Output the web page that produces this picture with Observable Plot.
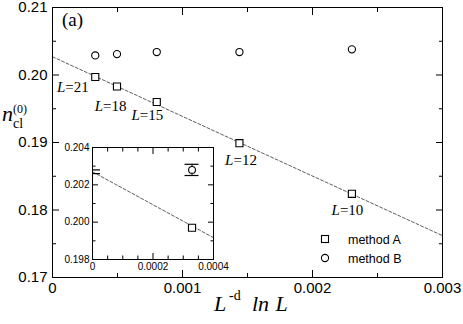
<!DOCTYPE html>
<html><head><meta charset="utf-8">
<script src="https://cdn.jsdelivr.net/npm/d3@7"></script>
<script src="https://cdn.jsdelivr.net/npm/@observablehq/plot@0.6"></script>
<style>
body{margin:0;background:#fff}
#wrap{position:relative;width:463px;height:324px;overflow:hidden;background:#fff}
#wrap > *{position:absolute}
</style></head><body><div id="wrap"></div>
<script>
// ---- data ----
const sizes   = [21, 18, 15, 12, 10];
const xVals   = [0.000329, 0.000496, 0.000802, 0.001438, 0.002303]; // L^-d ln L, d=3
const methodA = [0.1997, 0.1983, 0.1960, 0.1899, 0.1824];
const methodB = [0.2029, 0.2031, 0.2034, 0.2034, 0.2038];
const fitX = [0, 0.003];
const fitY = [0.2027, 0.1762];
const xTicks = [0, 0.001, 0.002, 0.003];
const xMinor = [0.0005, 0.0015, 0.0025];
const yTicks = [0.17, 0.18, 0.19, 0.20, 0.21];
const yMinor = [0.175, 0.185, 0.195, 0.205];
// inset
const insetXTicks = [0, 0.0002, 0.0004];
const insetXMinor = [0.00005, 0.0001, 0.00015, 0.00025, 0.0003, 0.00035];
const insetYTicks = [0.198, 0.200, 0.202, 0.204];
const insetYMinor = [0.199, 0.201, 0.203];
const extrapX = [0], extrapY = [0.2027], extrapErr = [0.0001];
const insetBX = [0.000329], insetBY = [0.2028], insetBErr = [0.0003];
const insetAX = [0.000329], insetAY = [0.1997];
const legendLabels = ["method A", "method B"];

// ---- tables ----
const fit = fitX.map((x, i) => ({x, y: fitY[i]}));
const ptsA = xVals.map((x, i) => ({x, y: methodA[i], L: sizes[i]}));
const ptsB = xVals.map((x, i) => ({x, y: methodB[i], L: sizes[i]}));
const ext = extrapX.map((x, i) => ({x, y: extrapY[i], e: extrapErr[i]}));
const insB = insetBX.map((x, i) => ({x, y: insetBY[i], e: insetBErr[i]}));
const insA = insetAX.map((x, i) => ({x, y: insetAY[i]}));

const sans = "'Liberation Sans', Arial, Helvetica, sans-serif";
const serif = "'Liberation Serif', 'Times New Roman', serif";
const none = () => "";

function label(i, dx, dy) {
  const d = [ptsA[i]];
  return [
    Plot.text(d, {x: "x", y: "y", text: () => "L", textAnchor: "end", lineAnchor: "bottom",
      dx, dy, fontFamily: serif, fontStyle: "italic", fontSize: 15, fill: "#000"}),
    Plot.text(d, {x: "x", y: "y", text: d => "=" + d.L, textAnchor: "start", lineAnchor: "bottom",
      dx, dy, fontFamily: serif, fontSize: 15, fill: "#000"})
  ];
}

const main = Plot.plot({
  width: 463, height: 324,
  marginLeft: 52, marginRight: 21, marginTop: 7, marginBottom: 47,
  x: {domain: [0, 0.003]},
  y: {domain: [0.17, 0.21]},
  style: {fontFamily: sans, fontSize: "15px", color: "#000", background: "transparent", overflow: "visible"},
  marks: [
    Plot.line(fit, {x: "x", y: "y", stroke: "#333", strokeWidth: 0.8, strokeDasharray: "3,2"}),
    Plot.axisX(xTicks, {anchor: "bottom", tickSize: -7, tickPadding: 12, label: null,
      tickFormat: d => d === 0 ? "0" : d3.format(".3f")(d)}),
    Plot.axisX(xMinor, {anchor: "bottom", tickSize: -4, tickFormat: none, label: null}),
    Plot.axisX(xTicks, {anchor: "top", tickSize: -7, tickFormat: none, label: null}),
    Plot.axisX(xMinor, {anchor: "top", tickSize: -4, tickFormat: none, label: null}),
    Plot.axisY(yTicks, {anchor: "left", tickSize: -7, tickPadding: 12, label: null,
      tickFormat: d3.format(".2f")}),
    Plot.axisY(yMinor, {anchor: "left", tickSize: -4, tickFormat: none, label: null}),
    Plot.axisY(yTicks, {anchor: "right", tickSize: -7, tickFormat: none, label: null}),
    Plot.axisY(yMinor, {anchor: "right", tickSize: -4, tickFormat: none, label: null}),
    Plot.frame({stroke: "#000", strokeWidth: 1}),
    Plot.dot(ptsA, {x: "x", y: "y", symbol: "square", r: 4, stroke: "#000", strokeWidth: 1.1, fill: "white"}),
    Plot.dot(ptsB, {x: "x", y: "y", symbol: "circle", r: 3.6, stroke: "#000", strokeWidth: 1.1, fill: "white"}),
    label(0, -30, 15),
    label(1, -14, 25),
    label(2, -17, 18),
    label(3, -6, 22),
    label(4, -12, 21)
  ]
});

const inset = Plot.plot({
  width: 180, height: 135,
  marginLeft: 40, marginRight: 19, marginTop: 7, marginBottom: 16,
  x: {domain: [0, 0.0004]},
  y: {domain: [0.198, 0.204]},
  style: {fontFamily: sans, fontSize: "10px", color: "#000", background: "transparent", overflow: "visible"},
  marks: [
    Plot.frame({fill: "white", stroke: null}),
    Plot.line(fit, {x: "x", y: "y", stroke: "#333", strokeWidth: 0.8, strokeDasharray: "3,2", clip: "frame"}),
    Plot.ruleX(ext, {x: "x", y1: d => d.y - d.e, y2: d => d.y + d.e, stroke: "#000", clip: "frame"}),
    Plot.ruleY(ext, {y: d => d.y - d.e, x1: "x", x2: "x", insetLeft: -8, insetRight: -8, stroke: "#000", strokeWidth: 1.2, clip: "frame"}),
    Plot.ruleY(ext, {y: d => d.y + d.e, x1: "x", x2: "x", insetLeft: -8, insetRight: -8, stroke: "#000", strokeWidth: 1.2, clip: "frame"}),
    Plot.ruleX(insB, {x: "x", y1: d => d.y - d.e, y2: d => d.y + d.e, stroke: "#000"}),
    Plot.ruleY(insB, {y: d => d.y - d.e, x1: "x", x2: "x", insetLeft: -7, insetRight: -7, stroke: "#000", strokeWidth: 1.2}),
    Plot.ruleY(insB, {y: d => d.y + d.e, x1: "x", x2: "x", insetLeft: -7, insetRight: -7, stroke: "#000", strokeWidth: 1.2}),
    Plot.dot(insB, {x: "x", y: "y", symbol: "circle", r: 3.4, stroke: "#000", strokeWidth: 1.1, fill: "white"}),
    Plot.dot(insA, {x: "x", y: "y", symbol: "square", r: 4, stroke: "#000", strokeWidth: 1.1, fill: "white"}),
    Plot.axisX(insetXTicks, {anchor: "bottom", tickSize: -6, tickPadding: 9, label: null,
      tickFormat: d => d === 0 ? "0" : d3.format(".4f")(d)}),
    Plot.axisX(insetXMinor, {anchor: "bottom", tickSize: -3.5, tickFormat: none, label: null}),
    Plot.axisX(insetXTicks, {anchor: "top", tickSize: -6, tickFormat: none, label: null}),
    Plot.axisX(insetXMinor, {anchor: "top", tickSize: -3.5, tickFormat: none, label: null}),
    Plot.axisY(insetYTicks, {anchor: "left", tickSize: -6, tickPadding: 9, label: null,
      tickFormat: d3.format(".3f")}),
    Plot.axisY(insetYMinor, {anchor: "left", tickSize: -3.5, tickFormat: none, label: null}),
    Plot.axisY(insetYTicks, {anchor: "right", tickSize: -6, tickFormat: none, label: null}),
    Plot.axisY(insetYMinor, {anchor: "right", tickSize: -3.5, tickFormat: none, label: null}),
    Plot.frame({stroke: "#000", strokeWidth: 1})
  ]
});

const wrap = document.getElementById("wrap");
main.style.left = "0px"; main.style.top = "0px";
wrap.appendChild(main);
inset.style.left = "52px"; inset.style.top = "140px";
wrap.appendChild(inset);

// annotation overlay: axis titles, panel tag, legend
const ov = d3.select(wrap).append("svg")
  .attr("width", 463).attr("height", 324)
  .style("left", "0px").style("top", "0px").style("overflow", "visible");

ov.append("text").attr("x", 62).attr("y", 26).attr("font-family", serif).attr("font-size", 19).text("(a)");

// y title
ov.append("text").attr("x", 2).attr("y", 121).attr("font-family", serif).attr("font-style", "italic").attr("font-size", 22).text("n");
ov.append("text").attr("x", 13).attr("y", 113).attr("font-family", serif).attr("font-size", 12).text("(0)");
ov.append("text").attr("x", 13).attr("y", 128).attr("font-family", serif).attr("font-size", 14).text("cl");

// x title
ov.append("text").attr("x", 214).attr("y", 311).attr("font-family", serif).attr("font-style", "italic").attr("font-size", 22).text("L");
ov.append("text").attr("x", 229).attr("y", 300).attr("font-family", serif).attr("font-size", 14).text("-d");
ov.append("text").attr("x", 252).attr("y", 311).attr("font-family", serif).attr("font-style", "italic").attr("font-size", 22)
  .attr("word-spacing", 1).text("ln L");

// legend
const lg = ov.append("g");
lg.append("rect").attr("x", 321.5).attr("y", 235.5).attr("width", 7).attr("height", 7)
  .attr("fill", "white").attr("stroke", "#000").attr("stroke-width", 1.1);
lg.append("circle").attr("cx", 325).attr("cy", 258).attr("r", 3.6)
  .attr("fill", "white").attr("stroke", "#000").attr("stroke-width", 1.1);
legendLabels.forEach((t, i) => {
  lg.append("text").attr("x", 348).attr("y", 244 + i * 19).attr("font-family", sans).attr("font-size", 12.5).text(t);
});
</script></body></html>
